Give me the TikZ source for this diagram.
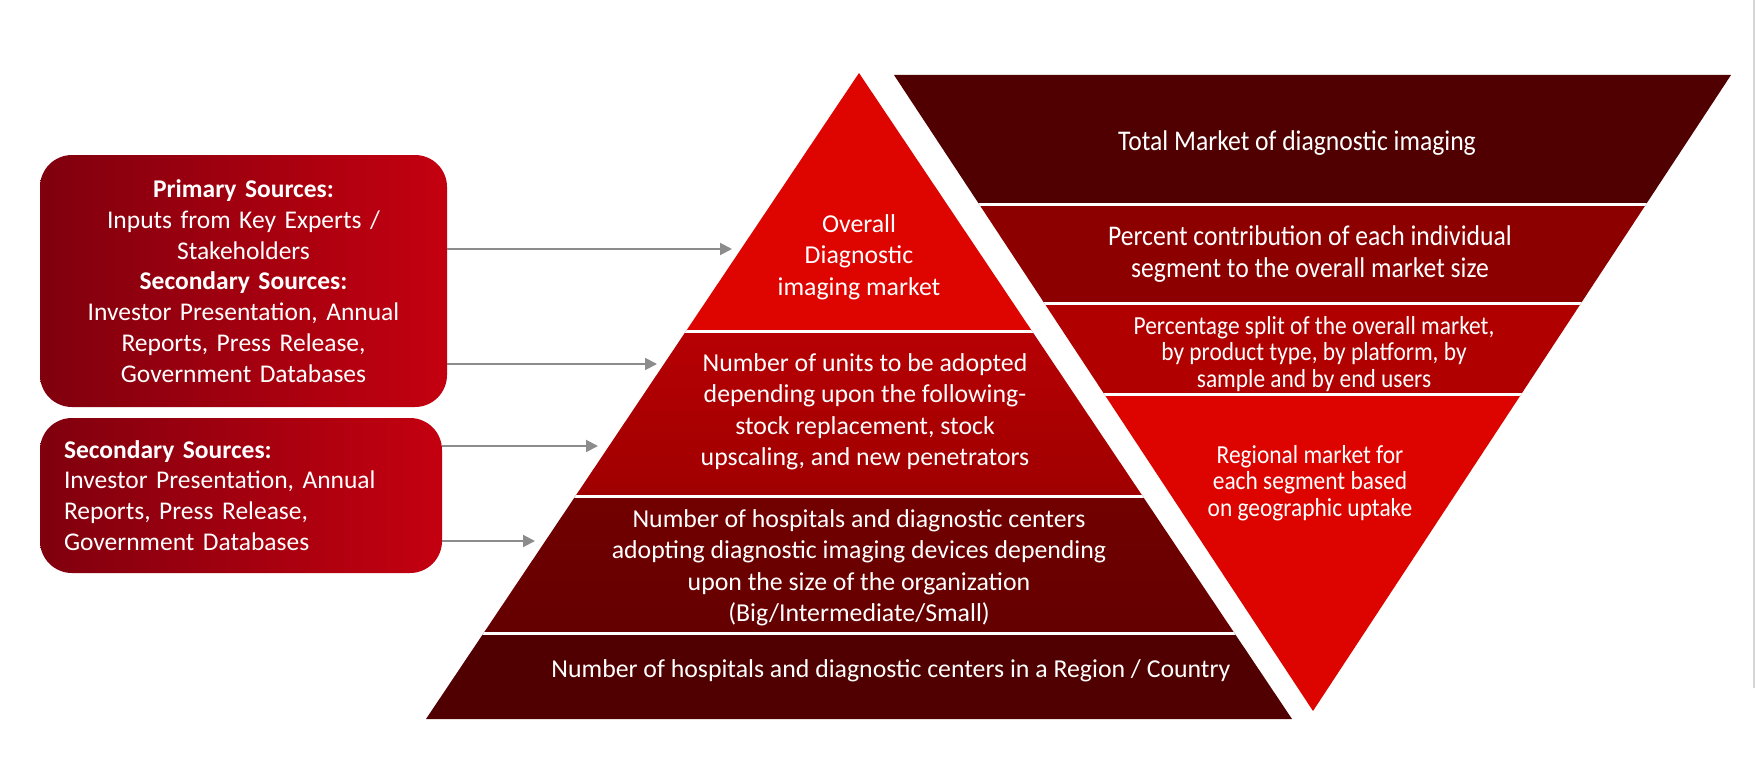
\documentclass[tikz,border=0pt]{standalone}
\usepackage{fontspec}
\setmainfont{Carlito}
\newfontfamily\narrowfont{Carlito}[FakeStretch=0.9]
\usetikzlibrary{arrows.meta}
\definecolor{boxdark}{RGB}{128,0,14}
\definecolor{boxlight}{RGB}{196,0,16}
\definecolor{pyrone}{RGB}{222,4,0}
\definecolor{pyrtwo}{RGB}{182,0,4}
\definecolor{pyrtwob}{RGB}{160,0,0}
\definecolor{pyrthree}{RGB}{114,0,0}
\definecolor{pyrthreeb}{RGB}{100,0,0}
\definecolor{pyrfour}{RGB}{80,0,0}
\definecolor{invone}{RGB}{80,0,0}
\definecolor{invtwo}{RGB}{140,0,0}
\definecolor{invthree}{RGB}{176,0,0}
\definecolor{invfour}{RGB}{221,4,0}
\definecolor{feedgray}{RGB}{140,140,140}
\definecolor{edgegray}{RGB}{214,214,214}
\begin{document}
\begin{tikzpicture}[x=1pt,y=-1pt,
  srcbox/.style={rounded corners=32pt, left color=boxdark, right color=boxlight,
    text=white, font=\fontsize{25.5}{30.8}\selectfont, inner xsep=24pt, inner ysep=0pt},
  feed/.style={draw=feedgray, line width=2pt, -{Triangle[length=12pt,width=12pt]}},
  layertext/.style={text=white, align=center, font=\fontsize{25.8}{31.5}\selectfont},
  segtext/.style={text=white, align=center, font=\narrowfont\fontsize{28.5}{31.5}\selectfont},
  smallseg/.style={text=white, align=center, font=\narrowfont\fontsize{26}{26.5}\selectfont},
  sepline/.style={white, line width=3pt}]
  \useasboundingbox (0,0) rectangle (1756,768);
  \fill[white] (0,0) rectangle (1756,768);
  \draw[edgegray, line width=2pt] (1754,0) -- (1754,688);

  \node[srcbox, text width=359pt, minimum height=252pt, align=center] (primary) at (243.5,281)
    {\textbf{Primary Sources:}\\ Inputs from Key Experts /\\ Stakeholders\\
     \textbf{Secondary Sources:}\\ Investor Presentation, Annual\\ Reports, Press Release,\\
     Government Databases};
  \node[srcbox, text width=354pt, minimum height=155pt, align=left] (secondary) at (241,495.5)
    {\textbf{Secondary Sources:}\\ Investor Presentation, Annual\\ Reports, Press Release,\\
     Government Databases};

  \coordinate (apex) at (859,73);
  \coordinate (baseL) at (426,719);
  \coordinate (baseR) at (1292,719);
  \begin{scope}
    \clip (apex) -- (baseR) -- (baseL) -- cycle;
    \fill[pyrone] (400,60) rectangle (1320,331);
    \shade[top color=pyrtwo, bottom color=pyrtwob] (400,331) rectangle (1320,496);
    \shade[top color=pyrthree, bottom color=pyrthreeb] (400,496) rectangle (1320,633);
    \fill[pyrfour] (400,633) rectangle (1320,730);
    \foreach \y in {331,496,633}
      \draw[sepline] (400,\y) -- (1320,\y);
  \end{scope}
  \node[layertext] (overall) at (859,257) {Overall\\ Diagnostic\\ imaging market};
  \node[layertext] (units) at (865,412) {Number of units to be adopted\\ depending upon the following-\\
    stock replacement, stock\\ upscaling, and new penetrators};
  \node[layertext] (adopting) at (859,568) {Number of hospitals and diagnostic centers\\
    adopting diagnostic imaging devices depending\\ upon the size of the organization\\
    (Big/Intermediate/Small)};
  \node[layertext] (count) at (891,671) {Number of hospitals and diagnostic centers in a Region / Country};

  \coordinate (invL) at (894,75);
  \coordinate (invR) at (1731,75);
  \coordinate (invtip) at (1313,711);
  \begin{scope}
    \clip (invL) -- (invR) -- (invtip) -- cycle;
    \fill[invone] (880,70) rectangle (1740,204);
    \fill[invtwo] (880,204) rectangle (1740,303);
    \fill[invthree] (880,303) rectangle (1740,394);
    \fill[invfour] (880,394) rectangle (1740,720);
    \foreach \y in {204,303,394}
      \draw[sepline] (880,\y) -- (1740,\y);
  \end{scope}
  \node[segtext] (total) at (1297,143) {Total Market of diagnostic imaging};
  \node[segtext] (percent) at (1310,254) {Percent contribution of each individual\\
    segment to the overall market size};
  \node[smallseg] (split) at (1314,354) {Percentage split of the overall market,\\
    by product type, by platform, by\\ sample and by end users};
  \node[smallseg] (regional) at (1310,483) {Regional market for\\ each segment based\\
    on geographic uptake};

  \coordinate (in1) at (732,249);
  \coordinate (in2) at (657,364);
  \coordinate (in3) at (598,446);
  \coordinate (in4) at (535,541);
  \draw[feed] (primary.east |- in1) -- (in1);
  \draw[feed] (primary.east |- in2) -- (in2);
  \draw[feed] (secondary.east |- in3) -- (in3);
  \draw[feed] (secondary.east |- in4) -- (in4);
\end{tikzpicture}
\end{document}
